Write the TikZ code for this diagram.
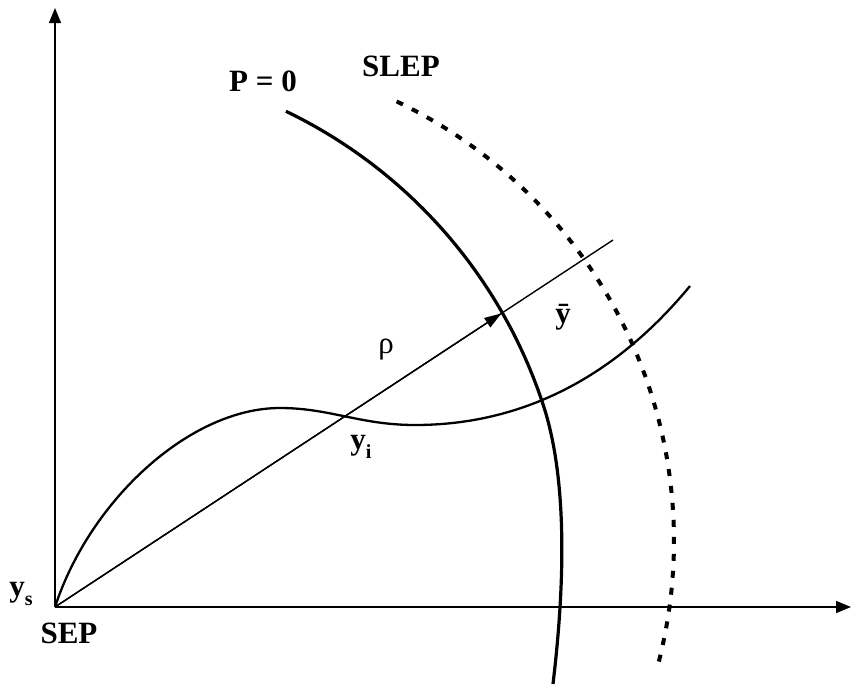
\documentclass[tikz,border=0pt]{standalone}
\usepackage{fontspec}
\setmainfont{Liberation Serif}
\usetikzlibrary{arrows.meta,calc}
\newcommand{\lbsub}[1]{\raisebox{-0.28em}{\fontsize{20}{20}\selectfont #1}}
\tikzset{
  axis/.style={line width=1.3pt,-{Triangle[length=15pt,width=12pt]}},
  lbl/.style={font=\fontsize{31}{31}\selectfont\bfseries,inner sep=0pt},
  thickcurve/.style={line width=3.2pt},
  traj/.style={line width=2.3pt},
  slep/.style={line width=4pt,dash pattern=on 7pt off 10pt},
  ray/.style={line width=1.4pt}
}
\begin{document}
\begin{tikzpicture}[x=1pt,y=-1pt]
\useasboundingbox (0,0) rectangle (852,689);
\coordinate (O) at (55,607);
\coordinate (Ytop) at (55,8);
\coordinate (Xend) at (851,607);
\coordinate (T) at (613,240);
\coordinate (Peak) at (280,408);
\coordinate (Dip) at (415,425);
\coordinate (TE) at (690,286);
\coordinate (PB) at (553,684);
% axes
\draw[axis] (O) -- (Ytop);
\draw[axis] (O) -- (Xend);
% ray
\draw[ray] (O) -- (T);
\draw[ray,-{Triangle[length=17pt,width=11pt]}] (O) -- ($(O)!0.80!(T)$);
% P = 0 boundary
\draw[thickcurve] plot[domain=-64.3:-18.4,samples=60] ({70+498*cos(\x)},{560+498*sin(\x)})
  .. controls (570,484) and (563,600) .. (PB);
% SLEP dashed
\draw[slep] plot[domain=-64.5:15.0,samples=90] ({187+487*cos(\x)},{541+487*sin(\x)});
% trajectory
\draw[traj] (O) .. controls (90,500) and (190,408) .. (Peak)
  .. controls (330,408) and (360,425) .. (Dip)
  .. controls (500,425) and (600,395) .. (TE);
% labels
\node[lbl] (p0) at (263,81) {P = 0};
\node[lbl] (slepl) at (401,66) {SLEP};
\node[inner sep=0pt,font=\fontsize{31}{31}\selectfont] (rho) at (386,350) {ρ};
\node[lbl] (ybar) at (563,317) {ȳ};
\node[lbl] (yi) at (361,447) {y\lbsub{i}};
\node[lbl] (ys) at (21,594) {y\lbsub{s}};
\node[lbl] (sep) at (69,633) {SEP};
\end{tikzpicture}
\end{document}
